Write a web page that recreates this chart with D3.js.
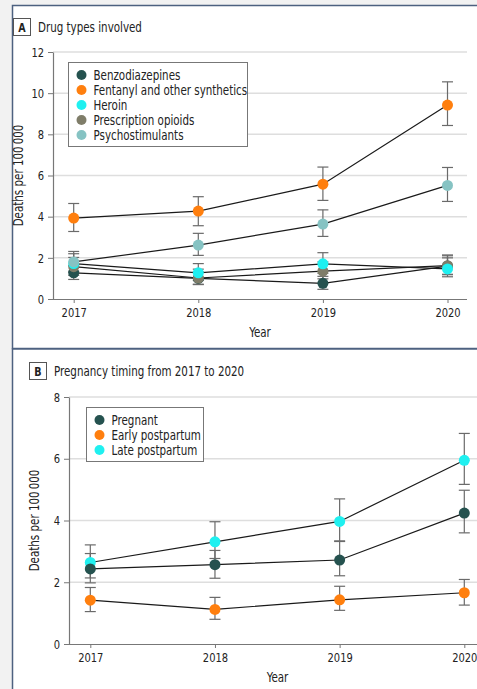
<!DOCTYPE html>
<html>
<head>
<meta charset="utf-8">
<script src="https://cdn.jsdelivr.net/npm/d3@7/dist/d3.min.js"></script>
<style>
  html, body { margin: 0; padding: 0; background: #f2f2f2; }
  svg { display: block; }
  text { font-family: "DejaVu Sans Condensed", "DejaVu Sans", sans-serif; fill: #222; }
</style>
</head>
<body>
<svg id="chart" width="477" height="689"></svg>
<script>
// ---- Panel A: drug types involved ----
const years = [2017, 2018, 2019, 2020];
const drugNames = ["Benzodiazepines", "Fentanyl and other synthetics", "Heroin", "Prescription opioids", "Psychostimulants"];
const drugColors = ["#25524f", "#ff7f0e", "#1ff0f0", "#7f7d69", "#86c3c3"];
const benzoRate = [1.27, 1.0, 0.76, 1.6];
const benzoLow = [0.95, 0.72, 0.47, 1.2];
const benzoHigh = [1.62, 1.32, 1.1, 2.1];
const fentanylRate = [3.93, 4.27, 5.58, 9.42];
const fentanylLow = [3.28, 3.56, 4.79, 8.43];
const fentanylHigh = [4.64, 4.97, 6.41, 10.55];
const heroinRate = [1.72, 1.27, 1.71, 1.46];
const heroinLow = [1.3, 0.9, 1.25, 1.08];
const heroinHigh = [2.2, 1.72, 2.25, 2.0];
const rxOpioidRate = [1.57, 1.02, 1.35, 1.62];
const rxOpioidLow = [1.15, 0.7, 0.98, 1.18];
const rxOpioidHigh = [2.02, 1.45, 1.8, 2.14];
const psychoRate = [1.8, 2.62, 3.64, 5.52];
const psychoLow = [1.35, 2.12, 3.04, 4.74];
const psychoHigh = [2.31, 3.19, 4.33, 6.39];
const yTicksA = [0, 2, 4, 6, 8, 10, 12];

// ---- Panel B: pregnancy timing ----
const timingNames = ["Pregnant", "Early postpartum", "Late postpartum"];
const timingColors = ["#25524f", "#ff7f0e", "#1ff0f0"];
const pregnantRate = [2.43, 2.57, 2.72, 4.24];
const pregnantLow = [1.98, 2.13, 2.21, 3.6];
const pregnantHigh = [2.93, 3.03, 3.34, 4.98];
const earlyRate = [1.42, 1.12, 1.43, 1.66];
const earlyLow = [1.05, 0.8, 1.09, 1.26];
const earlyHigh = [1.83, 1.51, 1.87, 2.09];
const lateRate = [2.64, 3.31, 3.97, 5.95];
const lateLow = [2.14, 2.77, 3.32, 5.17];
const lateHigh = [3.21, 3.96, 4.7, 6.82];
const yTicksB = [0, 2, 4, 6, 8];

const yTitle = "Deaths per 100\u2009000";

const drugSeries = [
  [benzoRate, benzoLow, benzoHigh],
  [fentanylRate, fentanylLow, fentanylHigh],
  [heroinRate, heroinLow, heroinHigh],
  [rxOpioidRate, rxOpioidLow, rxOpioidHigh],
  [psychoRate, psychoLow, psychoHigh]
].map((s, i) => ({ name: drugNames[i], color: drugColors[i], rate: s[0], low: s[1], high: s[2] }));

const timingSeries = [
  [pregnantRate, pregnantLow, pregnantHigh],
  [earlyRate, earlyLow, earlyHigh],
  [lateRate, lateLow, lateHigh]
].map((s, i) => ({ name: timingNames[i], color: timingColors[i], rate: s[0], low: s[1], high: s[2] }));

const svg = d3.select("#chart");
const frameColor = "#4d6180";
const SX = 0.85; // horizontal squeeze for a condensed look

// text placed at (x, y) and narrowed horizontally
function ctext(parent, x, y, str, extra = "") {
  return parent.append("text")
    .attr("transform", `translate(${x},${y}) ${extra} scale(${SX},1)`)
    .text(str);
}

// Panel frames
svg.append("rect").attr("x", 12.5).attr("y", 5.5).attr("width", 480).attr("height", 343)
  .attr("fill", "#fff").attr("stroke", frameColor).attr("stroke-width", 1.5);
svg.append("rect").attr("x", 12.5).attr("y", 349).attr("width", 480).attr("height", 360)
  .attr("fill", "#fff").attr("stroke", frameColor).attr("stroke-width", 1.5);

function panel(opt) {
  const g = svg.append("g");
  const x = d3.scalePoint().domain(years).range(opt.xr);
  const y = d3.scaleLinear().domain(opt.yd).range(opt.yr);

  // panel letter + title
  g.append("rect").attr("x", opt.tag[0] + 0.5).attr("y", opt.tag[1] + 0.5).attr("width", 17).attr("height", 17)
    .attr("fill", "#fff").attr("stroke", "#555").attr("stroke-width", 1);
  ctext(g, opt.tag[0] + 9, opt.tag[1] + 13.5, opt.letter)
    .attr("text-anchor", "middle").attr("font-size", 12.5).attr("font-weight", "bold");
  ctext(g, opt.tag[0] + 25, opt.tag[1] + 13.5, opt.title).attr("font-size", 13.5);

  // gridlines
  g.append("g").selectAll("line").data(opt.ticks.filter(t => t > 0)).join("line")
    .attr("x1", opt.xr0).attr("x2", opt.axisEnd)
    .attr("y1", d => y(d)).attr("y2", d => y(d))
    .attr("stroke", "#dedede").attr("stroke-width", 1.5);

  // axes
  const yAxis = g.append("g").attr("transform", `translate(${opt.xr0},0)`)
    .call(d3.axisLeft(y).tickValues(opt.ticks).tickSize(5).tickSizeOuter(0).tickPadding(4));
  const xAxis = g.append("g").attr("transform", `translate(0,${opt.yr[0]})`)
    .call(d3.axisBottom(x).tickSize(4).tickPadding(5));
  xAxis.select(".domain").attr("d", `M${opt.xr0},0.5H${opt.axisEnd}`);
  [yAxis, xAxis].forEach(a => {
    a.select(".domain").attr("stroke", "#777").attr("stroke-width", 1.2);
    a.selectAll(".tick line").attr("stroke", "#777");
    a.selectAll(".tick text").attr("font-size", 13).attr("fill", "#222")
      .attr("transform", `scale(${SX},1)`)
      .style("font-family", '"DejaVu Sans Condensed", "DejaVu Sans", sans-serif');
  });
  yAxis.selectAll(".tick text").attr("x", -9 / SX);

  // axis titles
  ctext(g, opt.ylabX, (opt.yr[0] + opt.yr[1]) / 2, yTitle, "rotate(-90)")
    .attr("text-anchor", "middle").attr("font-size", 13.5);
  ctext(g, (opt.xr0 + opt.axisEnd) / 2, opt.yr[0] + 38, "Year")
    .attr("text-anchor", "middle").attr("font-size", 13.5);

  // lines
  const line = d3.line().x((d, i) => x(years[i])).y(d => y(d));
  g.append("g").selectAll("path").data(opt.series).join("path")
    .attr("d", s => line(s.rate)).attr("fill", "none").attr("stroke", "#1a1a1a").attr("stroke-width", 1.2);

  // error bars
  const eb = g.append("g").attr("stroke", "#6a6a6a").attr("stroke-width", 1.2);
  opt.series.forEach(s => {
    years.forEach((yr, i) => {
      const cx = x(yr);
      eb.append("line").attr("x1", cx).attr("x2", cx).attr("y1", y(s.low[i])).attr("y2", y(s.high[i]));
      [s.low[i], s.high[i]].forEach(v =>
        eb.append("line").attr("x1", cx - 5.5).attr("x2", cx + 5.5).attr("y1", y(v)).attr("y2", y(v)));
    });
  });

  // points
  opt.order.forEach(k => {
    const s = opt.series[k];
    g.append("g").selectAll("circle").data(s.rate).join("circle")
      .attr("cx", (d, i) => x(years[i])).attr("cy", d => y(d)).attr("r", 5.5).attr("fill", s.color);
  });

  // legend
  const lg = g.append("g").attr("transform", `translate(${opt.leg[0]},${opt.leg[1]})`);
  lg.append("rect").attr("x", 0.5).attr("y", 0.5).attr("width", opt.leg[2]).attr("height", opt.series.length * 15 + 9)
    .attr("fill", "#fff").attr("stroke", "#777").attr("stroke-width", 1);
  opt.series.forEach((s, i) => {
    lg.append("circle").attr("cx", 13.5).attr("cy", 13 + i * 15).attr("r", 5).attr("fill", s.color);
    ctext(lg, 25.5, 17.5 + i * 15, s.name).attr("font-size", 13.5);
  });
}

panel({
  letter: "A", title: "Drug types involved", tag: [13, 18],
  xr: [73.7, 447.5], xr0: 53, axisEnd: 467,
  yd: [0, 12], yr: [299, 52], ticks: yTicksA, ylabX: 23,
  series: drugSeries, order: [1, 0, 3, 2, 4], leg: [68, 62, 179]
});

panel({
  letter: "B", title: "Pregnancy timing from 2017 to 2020", tag: [29, 362],
  xr: [90.3, 464.3], xr0: 69, axisEnd: 486,
  yd: [0, 8], yr: [644, 397], ticks: yTicksB, ylabX: 39,
  series: timingSeries, order: [1, 2, 0], leg: [86, 407, 117]
});
</script>
</body>
</html>
